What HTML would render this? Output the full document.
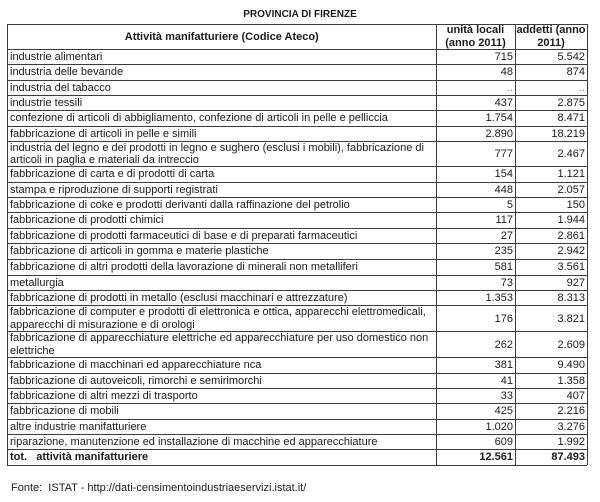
<!DOCTYPE html>
<html>
<head>
<meta charset="utf-8">
<style>
  html,body{margin:0;padding:0;background:#fff;}
  body{width:600px;height:502px;position:relative;overflow:hidden;
       font-family:"Liberation Sans",Arial,sans-serif;color:#1c1c1c;}
  .title{position:absolute;left:0;width:600px;top:8px;text-align:center;
         font-weight:bold;font-size:10px;line-height:14px;padding-left:0px;}
  .r{position:absolute;left:7.5px;width:579.5px;display:flex;font-size:11px;line-height:12.3px;}
  .c1{width:426px;padding-left:2.5px;display:flex;align-items:center;}
  .c2{width:77px;padding-right:2px;display:flex;align-items:center;justify-content:flex-end;text-align:right;}
  .c3{width:70px;padding-right:2px;display:flex;align-items:center;justify-content:flex-end;text-align:right;}
  .h{font-weight:bold;}
  .h .c1{justify-content:center;padding-left:0;width:428.5px;}
  .h .c2,.h .c3{justify-content:center;text-align:center;padding-right:0;}
  .h .c2{width:79px;} .h .c3{width:72px;}
  .hl{position:absolute;left:7px;width:580px;height:1px;background:#3c3c3c;}
  .vl{position:absolute;top:24px;height:441px;width:1px;background:#3c3c3c;}
  .b{font-weight:bold;}
  .pre{white-space:pre;}
  .dots{color:#888;}
  .fonte{position:absolute;left:11px;top:481px;font-size:11px;line-height:14px;color:#222;}
</style>
</head>
<body>
<div class="title">PROVINCIA DI FIRENZE</div>

<div class="r h" style="top:24px;height:25.3px"><div class="c1">Attività manifatturiere (Codice Ateco)</div><div class="c2">unità locali<br>(anno 2011)</div><div class="c3">addetti (anno<br>2011)</div></div>
<div class="r" style="top:49.3px;height:15.4px"><div class="c1">industrie alimentari</div><div class="c2">715</div><div class="c3">5.542</div></div>
<div class="r" style="top:64.7px;height:15.3px"><div class="c1">industria delle bevande</div><div class="c2">48</div><div class="c3">874</div></div>
<div class="r" style="top:80px;height:15.3px"><div class="c1">industria del tabacco</div><div class="c2 dots">..</div><div class="c3 dots">..</div></div>
<div class="r" style="top:95.3px;height:15.4px"><div class="c1">industrie tessili</div><div class="c2">437</div><div class="c3">2.875</div></div>
<div class="r" style="top:110.7px;height:15.3px"><div class="c1">confezione di articoli di abbigliamento, confezione di articoli in pelle e pelliccia</div><div class="c2">1.754</div><div class="c3">8.471</div></div>
<div class="r" style="top:126px;height:15.3px"><div class="c1">fabbricazione di articoli in pelle e simili</div><div class="c2">2.890</div><div class="c3">18.219</div></div>
<div class="r" style="top:141.3px;height:25.4px"><div class="c1">industria del legno e dei prodotti in legno e sughero (esclusi i mobili), fabbricazione di<br>articoli in paglia e materiali da intreccio</div><div class="c2">777</div><div class="c3">2.467</div></div>
<div class="r" style="top:166.7px;height:15.3px"><div class="c1">fabbricazione di carta e di prodotti di carta</div><div class="c2">154</div><div class="c3">1.121</div></div>
<div class="r" style="top:182px;height:15.3px"><div class="c1">stampa e riproduzione di supporti registrati</div><div class="c2">448</div><div class="c3">2.057</div></div>
<div class="r" style="top:197.3px;height:15.4px"><div class="c1">fabbricazione di coke e prodotti derivanti dalla raffinazione del petrolio</div><div class="c2">5</div><div class="c3">150</div></div>
<div class="r" style="top:212.7px;height:15.3px"><div class="c1">fabbricazione di prodotti chimici</div><div class="c2">117</div><div class="c3">1.944</div></div>
<div class="r" style="top:228px;height:15.3px"><div class="c1">fabbricazione di prodotti farmaceutici di base e di preparati farmaceutici</div><div class="c2">27</div><div class="c3">2.861</div></div>
<div class="r" style="top:243.3px;height:16.4px"><div class="c1">fabbricazione di articoli in gomma e materie plastiche</div><div class="c2">235</div><div class="c3">2.942</div></div>
<div class="r" style="top:259.7px;height:15.3px"><div class="c1">fabbricazione di altri prodotti della lavorazione di minerali non metalliferi</div><div class="c2">581</div><div class="c3">3.561</div></div>
<div class="r" style="top:275px;height:15.3px"><div class="c1">metallurgia</div><div class="c2">73</div><div class="c3">927</div></div>
<div class="r" style="top:290.3px;height:15.4px"><div class="c1">fabbricazione di prodotti in metallo (esclusi macchinari e attrezzature)</div><div class="c2">1.353</div><div class="c3">8.313</div></div>
<div class="r" style="top:305.7px;height:26px"><div class="c1">fabbricazione di computer e prodotti di elettronica e ottica, apparecchi elettromedicali,<br>apparecchi di misurazione e di orologi</div><div class="c2">176</div><div class="c3">3.821</div></div>
<div class="r" style="top:331.7px;height:26px"><div class="c1">fabbricazione di apparecchiature elettriche ed apparecchiature per uso domestico non<br>elettriche</div><div class="c2">262</div><div class="c3">2.609</div></div>
<div class="r" style="top:357.7px;height:15.3px"><div class="c1">fabbricazione di macchinari ed apparecchiature nca</div><div class="c2">381</div><div class="c3">9.490</div></div>
<div class="r" style="top:373px;height:15.3px"><div class="c1">fabbricazione di autoveicoli, rimorchi e semirimorchi</div><div class="c2">41</div><div class="c3">1.358</div></div>
<div class="r" style="top:388.3px;height:15.4px"><div class="c1">fabbricazione di altri mezzi di trasporto</div><div class="c2">33</div><div class="c3">407</div></div>
<div class="r" style="top:403.7px;height:15.3px"><div class="c1">fabbricazione di mobili</div><div class="c2">425</div><div class="c3">2.216</div></div>
<div class="r" style="top:419px;height:15.3px"><div class="c1">altre industrie manifatturiere</div><div class="c2">1.020</div><div class="c3">3.276</div></div>
<div class="r" style="top:434.3px;height:15.4px"><div class="c1">riparazione, manutenzione ed installazione di macchine ed apparecchiature</div><div class="c2">609</div><div class="c3">1.992</div></div>
<div class="r b" style="top:449.7px;height:15.3px"><div class="c1 pre">tot.   attività manifatturiere</div><div class="c2">12.561</div><div class="c3">87.493</div></div>

<!-- horizontal lines -->
<div class="hl" style="top:23.5px"></div>
<div class="hl" style="top:48.8px"></div>
<div class="hl" style="top:64.2px"></div>
<div class="hl" style="top:79.5px"></div>
<div class="hl" style="top:94.8px"></div>
<div class="hl" style="top:110.2px"></div>
<div class="hl" style="top:125.5px"></div>
<div class="hl" style="top:140.8px"></div>
<div class="hl" style="top:166.2px"></div>
<div class="hl" style="top:181.5px"></div>
<div class="hl" style="top:196.8px"></div>
<div class="hl" style="top:212.2px"></div>
<div class="hl" style="top:227.5px"></div>
<div class="hl" style="top:242.8px"></div>
<div class="hl" style="top:259.2px"></div>
<div class="hl" style="top:274.5px"></div>
<div class="hl" style="top:289.8px"></div>
<div class="hl" style="top:305.2px"></div>
<div class="hl" style="top:331.2px"></div>
<div class="hl" style="top:357.2px"></div>
<div class="hl" style="top:372.5px"></div>
<div class="hl" style="top:387.8px"></div>
<div class="hl" style="top:403.2px"></div>
<div class="hl" style="top:418.5px"></div>
<div class="hl" style="top:433.8px"></div>
<div class="hl" style="top:449.2px"></div>
<div class="hl" style="top:464.5px;height:1.5px"></div>

<!-- vertical lines -->
<div class="vl" style="left:7px"></div>
<div class="vl" style="left:436px"></div>
<div class="vl" style="left:515px"></div>
<div class="vl" style="left:586.5px"></div>

<div class="fonte">Fonte:&nbsp; ISTAT - http://dati-censimentoindustriaeservizi.istat.it/</div>
</body>
</html>
